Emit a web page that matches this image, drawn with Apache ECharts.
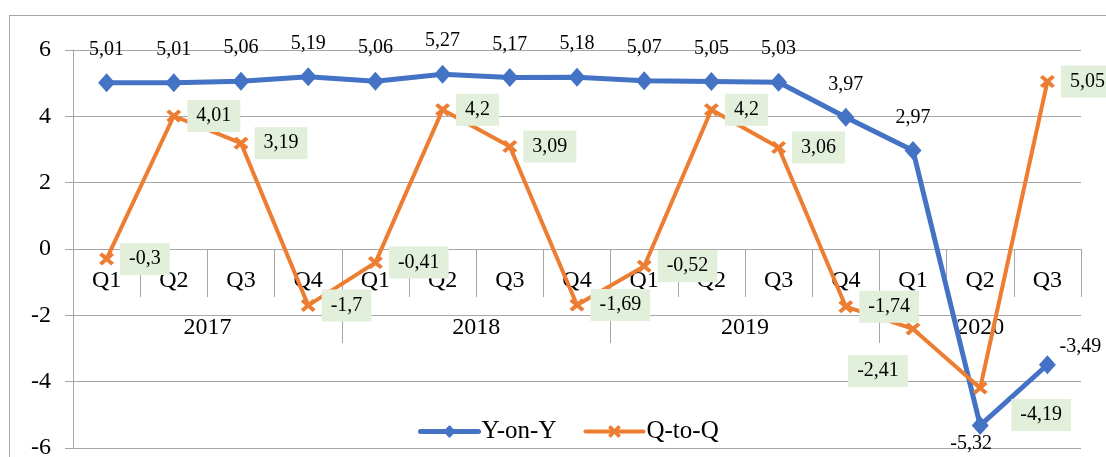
<!DOCTYPE html>
<html>
<head>
<meta charset="utf-8">
<script src="https://cdn.jsdelivr.net/npm/echarts@6/dist/echarts.min.js"></script>
<style>
  html, body { margin: 0; padding: 0; background: #fff; }
  #frame { position: absolute; left: 9px; top: 15px; width: 1300px; height: 700px; border: 1px solid #a6a6a6; box-sizing: border-box; }
  #chart { position: absolute; left: 0; top: 0; width: 1106px; height: 457px; }
</style>
</head>
<body>
<div id="frame"></div>
<div id="chart"></div>
<script>
const quarters = ['Q1','Q2','Q3','Q4','Q1','Q2','Q3','Q4','Q1','Q2','Q3','Q4','Q1','Q2','Q3'];
const years = ['2017','2018','2019','2020'];
const quartersPerYear = [4, 4, 4, 3];
const yOnY = [5.01, 5.01, 5.06, 5.19, 5.06, 5.27, 5.17, 5.18, 5.07, 5.05, 5.03, 3.97, 2.97, -5.32, -3.49];
const qToQ = [-0.3, 4.01, 3.19, -1.7, -0.41, 4.2, 3.09, -1.69, -0.52, 4.2, 3.06, -1.74, -2.41, -4.19, 5.05];
const yMin = -6, yMax = 6, yStep = 2;

const FONT = 'Liberation Serif';
const GRID = { left: 73, right: 25, top: 50, bottom: 9 };
const AXIS_GRAY = '#a6a6a6';
const BLUE = '#4472C4', ORANGE = '#ED7D31';

// year level axis: half-quarter resolution points
const nHalf = quarters.length * 2;
const yearAxisData = new Array(nHalf + 1).fill('');
const yearBoundaries = new Set();
let acc = 0;
quartersPerYear.forEach((n, i) => {
  yearBoundaries.add(acc * 2);
  yearAxisData[acc * 2 + n] = years[i];
  acc += n;
});

const fmt = v => String(v).replace('.', ',');

const blueLabelOverrides = {
  13: { offset: [-9, 18] },
  14: { offset: [33, -18] }
};
const orangeLabelOverrides = {
  12: { position: 'inside', offset: [-35, 42] },
  13: { position: 'inside', offset: [61, 27] }
};

const chart = echarts.init(document.getElementById('chart'), null, { renderer: 'canvas' });
const gridHeight = 457 - GRID.top - GRID.bottom;
const zeroOffset = -gridHeight * (0 - yMin) / (yMax - yMin);

const xPath = 'path://M0,2 L2,0 L5,3 L8,0 L10,2 L7,5 L10,8 L8,10 L5,7 L2,10 L0,8 L3,5 Z';

chart.setOption({
  animation: false,
  textStyle: { fontFamily: FONT },
  grid: Object.assign({ outerBoundsMode: 'none', containLabel: false }, GRID),
  legend: {
    left: 413, top: 414,
    itemWidth: 58, itemHeight: 16, itemGap: 27,
    textStyle: { fontFamily: FONT, fontSize: 25, color: '#000', padding: [0, 0, 0, -2] },
    data: [
      { name: 'Y-on-Y', lineStyle: { width: 5, cap: 'round' } },
      { name: 'Q-to-Q', lineStyle: { width: 4, cap: 'round' } }
    ]
  },
  xAxis: [
    {
      type: 'category',
      data: quarters,
      boundaryGap: true,
      position: 'bottom',
      offset: zeroOffset,
      axisLine: { show: true, onZero: false, lineStyle: { color: AXIS_GRAY, width: 1 } },
      axisTick: { show: true, interval: 0, length: 48, lineStyle: { color: AXIS_GRAY } },
      axisLabel: { interval: 0, margin: 20, fontFamily: FONT, fontSize: 24, color: '#000' },
      splitLine: { show: false }
    },
    {
      type: 'category',
      data: yearAxisData,
      boundaryGap: false,
      position: 'bottom',
      offset: zeroOffset,
      axisLine: { show: false, onZero: false },
      axisTick: { show: true, length: 94, interval: (i) => yearBoundaries.has(i), lineStyle: { color: AXIS_GRAY } },
      axisLabel: { interval: (i, v) => v !== '', margin: 67, fontFamily: FONT, fontSize: 24, color: '#000' },
      splitLine: { show: false }
    }
  ],
  yAxis: {
    type: 'value',
    min: yMin, max: yMax, interval: yStep,
    axisLine: { show: true, lineStyle: { color: AXIS_GRAY } },
    axisTick: { show: true, length: 8, lineStyle: { color: AXIS_GRAY } },
    axisLabel: { margin: 22, fontFamily: FONT, fontSize: 24, color: '#000', formatter: v => String(v) },
    splitLine: { lineStyle: { color: AXIS_GRAY, width: 1 } }
  },
  series: [
    {
      name: 'Y-on-Y',
      type: 'line',
      xAxisIndex: 0,
      data: yOnY.map((v, i) => {
        const o = { value: v };
        if (blueLabelOverrides[i]) o.label = blueLabelOverrides[i];
        return o;
      }),
      symbol: 'diamond',
      symbolSize: [17, 19],
      lineStyle: { color: BLUE, width: 5 },
      itemStyle: { color: BLUE },
      label: {
        show: true, position: 'inside', offset: [0, -33],
        fontFamily: FONT, fontSize: 20, color: '#000',
        formatter: p => fmt(p.value)
      },
      z: 2
    },
    {
      name: 'Q-to-Q',
      type: 'line',
      xAxisIndex: 0,
      data: qToQ.map((v, i) => {
        const o = { value: v };
        if (orangeLabelOverrides[i]) o.label = orangeLabelOverrides[i];
        return o;
      }),
      symbol: xPath,
      symbolSize: [15, 13],
      lineStyle: { color: ORANGE, width: 4 },
      itemStyle: { color: ORANGE },
      label: {
        show: true, position: 'right', distance: 6,
        fontFamily: FONT, fontSize: 20, color: '#000',
        backgroundColor: '#E2EFDA',
        padding: [6, 9],
        formatter: p => fmt(p.value)
      },
      z: 3
    }
  ]
});
</script>
</body>
</html>
